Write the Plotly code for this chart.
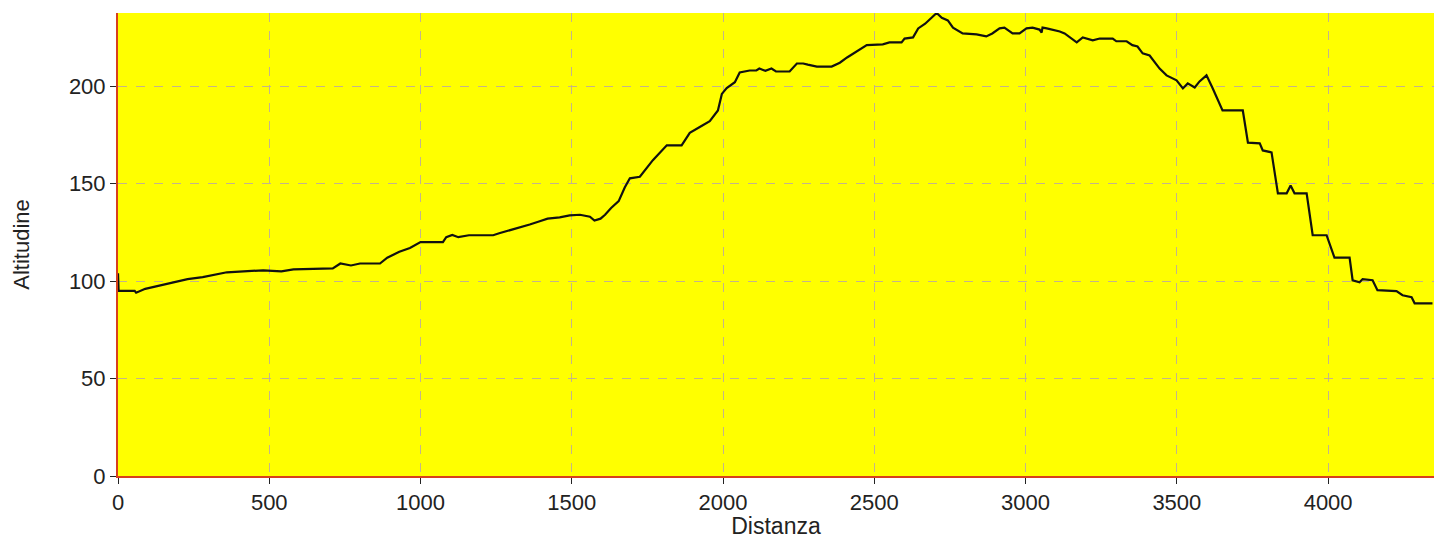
import plotly.graph_objects as go

distanza = [0, 2, 55, 60, 90, 150, 200, 230, 280, 330, 360, 480, 540, 580, 710, 735, 770, 800, 866,
            890, 930, 965, 1000, 1074, 1085, 1105, 1125, 1160, 1240, 1260, 1295, 1330, 1361, 1394, 1420,
            1460, 1493, 1527, 1560, 1575, 1595, 1610, 1630, 1655, 1675, 1692, 1725, 1768, 1814, 1863,
            1890, 1923, 1956, 1983, 1996, 2012, 2039, 2055, 2088, 2110, 2120, 2140, 2160, 2175, 2220,
            2244, 2265, 2280, 2310, 2359, 2386, 2410, 2442, 2475, 2528, 2550, 2590, 2600, 2628, 2645,
            2668, 2685, 2706, 2723, 2743, 2760, 2792, 2838, 2870, 2890, 2914, 2930, 2957, 2980, 3003,
            3023, 3046, 3053, 3056, 3070, 3113, 3129, 3169, 3189, 3222, 3245, 3288, 3300, 3334, 3353,
            3370, 3387, 3410, 3443, 3466, 3499, 3520, 3536, 3559, 3575, 3598, 3618, 3651, 3718, 3735,
            3774, 3784, 3813, 3830, 3834, 3863, 3876, 3889, 3929, 3949, 3995, 4021, 4071, 4081, 4104,
            4114, 4147, 4163, 4226, 4246, 4276, 4286, 4345]
altitudine = [104, 95, 95, 94, 96, 98, 100, 101, 102, 103.5, 104.5, 105.5, 105, 106, 106.5, 109, 108,
              109, 109, 112, 115, 117, 120, 120, 122.5, 123.7, 122.5, 123.5, 123.5, 124.5, 126, 127.6,
              129, 130.7, 132, 132.7, 133.7, 134, 133, 131, 132, 134, 137.5, 141, 148, 152.7, 153.5,
              162, 169.6, 169.6, 176, 179, 182, 187.5, 196, 199, 202, 207, 208, 208, 209, 207.8, 209,
              207.5, 207.5, 211.6, 211.6, 211, 210, 210, 212, 214.7, 218, 221, 221.4, 222.4, 222.4,
              224.4, 225, 229.6, 232, 234.7, 237.5, 235, 233.7, 230, 227, 226.5, 225.5, 227, 229.6, 230,
              227, 227, 229.6, 230, 229, 227.5, 230, 229.6, 228, 227, 222.4, 225, 223.5, 224.4, 224.4,
              223, 223, 221, 220.3, 216.8, 215.7, 209, 205.5, 203, 198.8, 201.4, 199.3, 202.4, 205.5,
              199, 187.5, 187.5, 171, 170.6, 167, 166, 149, 145, 145, 149, 145, 145, 123.5, 123.5, 112,
              112, 100.4, 99.4, 101, 100.4, 95.3, 94.8, 92.7, 91.7, 88.6, 88.6]

x_ticks = [0, 500, 1000, 1500, 2000, 2500, 3000, 3500, 4000]
y_ticks = [0, 50, 100, 150, 200]

fig = go.Figure()
fig.add_trace(go.Scatter(x=distanza, y=altitudine, mode="lines",
                         line=dict(color="#111111", width=2.2), showlegend=False))

font_family = "Liberation Sans Narrow, Arial Narrow, Liberation Sans, Arial"
axis_common = dict(
    showline=True, linecolor="#d8401c", linewidth=2, mirror=False,
    showgrid=True, gridcolor="#c4b48a", griddash="dash", gridwidth=1,
    ticks="outside", ticklen=6, tickcolor="#222222", tickwidth=1,
    zeroline=False, automargin=False,
    tickfont=dict(family=font_family, size=22, color="#222222"),
)

fig.update_layout(
    width=1434, height=539,
    margin=dict(l=118, r=0, t=13, b=63),
    paper_bgcolor="white", plot_bgcolor="#ffff00",
    xaxis=dict(range=[0, 4350], tickvals=x_ticks, ticktext=[str(v) for v in x_ticks],
               title=dict(text="Distanza", font=dict(family=font_family, size=23, color="#222222"),
                          standoff=11),
               **axis_common),
    yaxis=dict(range=[0, 237.5], tickvals=y_ticks, ticktext=[str(v) for v in y_ticks],
               title=dict(text="Altitudine", font=dict(family=font_family, size=22, color="#222222"),
                          standoff=33),
               **axis_common),
)

fig.write_html("out.html", config={"displayModeBar": False})
with open("out.html", "r", encoding="utf-8") as f:
    html = f.read()
html = html.replace("<head>", "<head><style>html,body{margin:0;padding:0;overflow:hidden;}</style>", 1)
with open("out.html", "w", encoding="utf-8") as f:
    f.write(html)
